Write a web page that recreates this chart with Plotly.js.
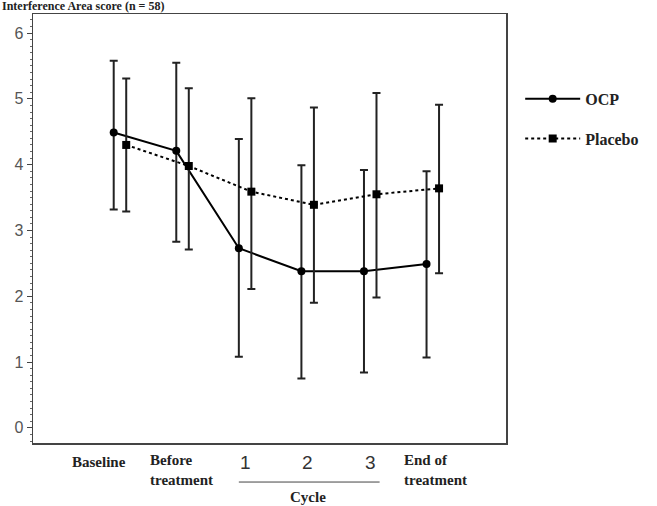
<!DOCTYPE html>
<html>
<head>
<meta charset="utf-8">
<script src="https://cdn.plot.ly/plotly-3.0.1.min.js"></script>
<style>html,body{margin:0;padding:0;background:#fff;}#chart{width:657px;height:506px;}</style>
</head>
<body>
<div id="chart"></div>
<script>
// Data
const categories = ["Baseline", "Before treatment", "1", "2", "3", "End of treatment"];
const labelLines = [["Baseline"], ["Before", "treatment"], ["1"], ["2"], ["3"], ["End of", "treatment"]];
const groupLabel = "Cycle";
const ocpMean  = [4.49, 4.21, 2.73, 2.38, 2.38, 2.49];
const ocpUpper = [5.58, 5.55, 4.39, 3.99, 3.92, 3.90];
const ocpLower = [3.32, 2.83, 1.08, 0.75, 0.84, 1.07];
const plaMean  = [4.30, 3.98, 3.59, 3.39, 3.55, 3.64];
const plaUpper = [5.31, 5.16, 5.01, 4.87, 5.09, 4.91];
const plaLower = [3.29, 2.71, 2.11, 1.90, 1.98, 2.35];
const yTicks = [0, 1, 2, 3, 4, 5, 6];

const idx = categories.map((_, i) => i);
const off = 0.1;
const serif = "Liberation Serif, Times New Roman, serif";
const sans = "Liberation Sans, Arial, sans-serif";

const traces = [
  {
    name: "OCP", legendgroup: "a",
    x: idx.map(i => i - off), y: ocpMean,
    mode: "lines+markers", type: "scatter",
    line: {color: "#000", width: 2},
    marker: {symbol: "circle", size: 8, color: "#000"},
    error_y: {type: "data", symmetric: false,
      array: ocpUpper.map((u, i) => u - ocpMean[i]),
      arrayminus: ocpLower.map((l, i) => ocpMean[i] - l),
      color: "#222", thickness: 2, width: 4}
  },
  {
    name: "Placebo", legendgroup: "b",
    x: idx.map(i => i + off), y: plaMean,
    mode: "lines+markers", type: "scatter",
    line: {color: "#000", width: 2, dash: "dot"},
    marker: {symbol: "square", size: 8, color: "#000"},
    error_y: {type: "data", symmetric: false,
      array: plaUpper.map((u, i) => u - plaMean[i]),
      arrayminus: plaLower.map((l, i) => plaMean[i] - l),
      color: "#222", thickness: 2, width: 4}
  }
];

// label styling (layout only)
const labelShift = [-50, -35, 0, 0, 0, -31];
const annotations = labelLines.map((lines, i) => {
  const isNum = /^\d+$/.test(lines[0]);
  return {
    xref: "x", yref: "paper", x: i, y: lines.length > 1 ? -0.064 : -0.0443,
    yanchor: "middle", xanchor: isNum ? "center" : "left", xshift: labelShift[i],
    align: "left",
    text: isNum ? lines[0] : lines.map(t => "<b>" + t + "</b>").join("<br>"),
    showarrow: false,
    font: isNum ? {family: sans, size: 19, color: "#333"} : {family: serif, size: 15, color: "#222"}
  };
});
annotations.push({
  xref: "x", yref: "paper", x: 3, y: -0.126, yanchor: "middle", xanchor: "center",
  text: "<b>" + groupLabel + "</b>", showarrow: false,
  font: {family: serif, size: 15, color: "#222"}
});
annotations.push({
  xref: "paper", yref: "paper", x: -0.07, y: 1.0186, xanchor: "left", yanchor: "middle",
  text: "<b>Interference Area score (n = 58)</b>", showarrow: false,
  font: {family: serif, size: 12, color: "#222"}
});

const layout = {
  width: 657, height: 506,
  margin: {l: 33, r: 151, t: 14, b: 63},
  paper_bgcolor: "#fff", plot_bgcolor: "#fff",
  showlegend: true,
  legend: {x: 1.03, y: 0.842, xanchor: "left", yanchor: "top",
    tracegroupgap: 16, itemwidth: 55, bgcolor: "rgba(0,0,0,0)",
    font: {family: serif, size: 16, color: "#222", weight: "bold"}},
  xaxis: {range: [-1.39, 6.17], showticklabels: false, ticks: "", showgrid: false,
    zeroline: false, showline: true, linecolor: "#444", linewidth: 1.5, mirror: true},
  yaxis: {range: [-0.23, 6.29], tickvals: yTicks, showgrid: false, zeroline: false,
    showline: true, linecolor: "#444", linewidth: 1.5, mirror: true,
    ticks: "outside", ticklen: 5, tickcolor: "#444",
    minor: {dtick: 0.1, ticks: "outside", ticklen: 2, tickcolor: "#666"},
    tickfont: {family: sans, size: 16, color: "#555"}},
  annotations: annotations,
  shapes: [{type: "line", xref: "x", yref: "paper", x0: 2 - off, x1: 4 + 0.15,
    y0: -0.091, y1: -0.091, line: {color: "#444", width: 1}}]
};

Plotly.newPlot("chart", traces, layout, {displayModeBar: false, staticPlot: true});
</script>
</body>
</html>
